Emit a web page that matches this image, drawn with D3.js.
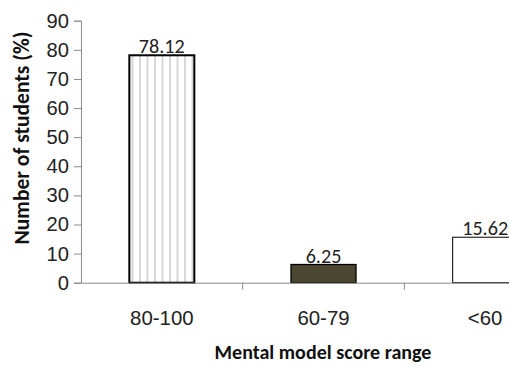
<!DOCTYPE html>
<html><head><meta charset="utf-8">
<script src="https://cdn.jsdelivr.net/npm/d3@7"></script>
<style>
html,body{margin:0;padding:0;background:#fff;}
svg{display:block;font-family:Carlito,"Open Sans","Noto Sans",sans-serif;}
</style></head>
<body>
<svg id="chart" width="509" height="365"></svg>
<script>
const categories = ["80-100", "60-79", "<60"];
const values = [78.12, 6.25, 15.62];
const yTicks = [0, 10, 20, 30, 40, 50, 60, 70, 80, 90];
const xTitle = "Mental model score range";
const yTitle = "Number of students (%)";

const svg = d3.select("#chart");
const m = {left: 81, top: 20.7, bottom: 282.7};
const plotRight = 566;

function fitSize(sample, target, weight) {
  const t = svg.append("text").attr("font-size", 100).attr("font-weight", weight || "normal").text(sample);
  const w = t.node().getComputedTextLength();
  t.remove();
  return 100 * target / w;
}
const fsNum = fitSize("78.12", 46);
const fsCat = fitSize("80-100", 58);
const fsXT = fitSize(xTitle, 217, "bold");
const fsYT = fitSize(yTitle, 213, "bold");

const x = d3.scaleBand().domain(categories).range([m.left, plotRight]).paddingInner(0).paddingOuter(0);
const y = d3.scaleLinear().domain([0, 90]).range([m.bottom, m.top]);

const defs = svg.append("defs");
const pat = defs.append("pattern").attr("id", "vlines").attr("patternUnits", "userSpaceOnUse")
  .attr("width", 7.5).attr("height", 10).attr("x", 131.5);
pat.append("rect").attr("width", 7.5).attr("height", 10).attr("fill", "#fff");
pat.append("line").attr("x1", 1).attr("x2", 1).attr("y1", 0).attr("y2", 10).attr("stroke", "#bdbdbd").attr("stroke-width", 1.2);

const yAxis = d3.axisLeft(y).tickValues(yTicks).tickSize(7).tickPadding(5);
const gy = svg.append("g").attr("transform", `translate(${m.left},0)`).call(yAxis);
gy.select(".domain").attr("stroke", "#8c8c8c");
gy.selectAll(".tick line").attr("stroke", "#8c8c8c");
gy.selectAll(".tick text").attr("font-size", fsNum).attr("fill", "#222").attr("font-family", "inherit");

const barW = 65;
const fills = ["url(#vlines)", "#4b4631", "#fff"];
const strokeW = [2, 1.3, 1];
svg.append("g").selectAll("rect").data(values).join("rect")
  .attr("x", (d, i) => x(categories[i]) + x.bandwidth() / 2 - barW / 2)
  .attr("y", d => y(d))
  .attr("width", barW)
  .attr("height", d => y(0) - y(d))
  .attr("fill", (d, i) => fills[i])
  .attr("stroke", "#000")
  .attr("stroke-width", (d, i) => strokeW[i]);

const xAxis = d3.axisBottom(x).tickSize(0).tickPadding(28);
const gx = svg.append("g").attr("transform", `translate(0,${m.bottom})`).call(xAxis);
gx.select(".domain").attr("stroke", "#8c8c8c");
gx.selectAll(".tick text").attr("font-size", fsCat).attr("fill", "#222").attr("font-family", "inherit");
const seps = categories.map(c => x(c) + x.bandwidth());
gx.selectAll("line.sep").data(seps).join("line").attr("class", "sep")
  .attr("x1", d => d).attr("x2", d => d).attr("y1", 0).attr("y2", 7).attr("stroke", "#8c8c8c");

svg.append("g").selectAll("text").data(values).join("text")
  .attr("x", (d, i) => x(categories[i]) + x.bandwidth() / 2)
  .attr("y", d => y(d) - 2)
  .attr("text-anchor", "middle")
  .attr("font-size", fsNum).attr("fill", "#222")
  .text(d => d.toFixed(2));

svg.append("text").attr("x", 323).attr("y", 359).attr("text-anchor", "middle")
  .attr("font-size", fsXT).attr("font-weight", "bold").attr("fill", "#111").text(xTitle);
svg.append("text").attr("transform", "translate(29,138) rotate(-90)").attr("text-anchor", "middle")
  .attr("font-size", fsYT).attr("font-weight", "bold").attr("fill", "#111").text(yTitle);
</script>
</body></html>
